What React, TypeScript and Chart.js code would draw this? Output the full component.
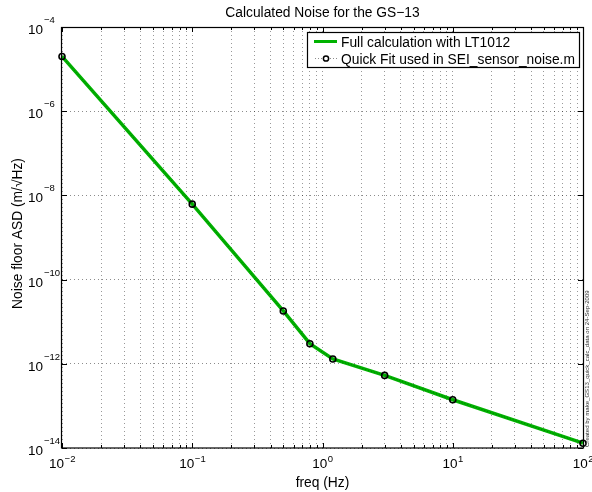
import React, { useEffect, useRef } from 'react';
import { Chart, registerables } from 'chart.js';

Chart.register(...registerables);

// ---------- data ----------
const TITLE = 'Calculated Noise for the GS\u221213';
const X_LABEL = 'freq (Hz)';
const Y_LABEL = 'Noise floor ASD (m/\u221AHz)';
const STAMP = 'Created by make_GS13_quick_calc_data on 24-Sep-2009';
const SERIES_NAMES = ['Full calculation with LT1012', 'Quick Fit used in SEI_sensor_noise.m'];

const FREQ = [0.01, 0.1, 0.5, 0.8, 1.2, 3, 10, 100];
const FULL_NOISE = [2.0e-5, 6.2e-9, 1.8e-11, 3.0e-12, 1.3e-12, 5.3e-13, 1.4e-13, 1.3e-14];
const FIT_NOISE = [2.0e-5, 6.2e-9, 1.8e-11, 3.0e-12, 1.3e-12, 5.3e-13, 1.4e-13, 1.3e-14];

const X_DECADES = [-2, -1, 0, 1, 2];
const X_MINOR_MULT = [2, 3, 4, 5, 6, 7, 8, 9];
const Y_DECADES = [-14, -12, -10, -8, -6, -4];

const FONT = '"Liberation Sans", Arial, Helvetica, sans-serif';
const GREEN = 'rgb(0,178,0)';

function xTickValues() {
  const vals: { value: number; major: boolean }[] = [];
  for (let i = 0; i < X_DECADES.length; i++) {
    const e = X_DECADES[i];
    vals.push({ value: Math.pow(10, e), major: true });
    if (i < X_DECADES.length - 1) {
      for (const m of X_MINOR_MULT) vals.push({ value: m * Math.pow(10, e), major: false });
    }
  }
  return vals;
}

const matlabPlugin = {
  id: 'matlabDecor',
  afterDraw(chart: any) {
    const { ctx, chartArea: a } = chart;
    const xs = chart.scales.x;
    const ys = chart.scales.y;
    ctx.save();

    // box
    ctx.strokeStyle = '#000';
    ctx.lineWidth = 1.2;
    ctx.setLineDash([]);
    ctx.strokeRect(Math.round(a.left) - 0.5, Math.round(a.top) + 0.5, Math.round(a.right - a.left) + 1, Math.round(a.bottom - a.top) - 0.5);

    // inside ticks
    ctx.lineWidth = 1;
    ctx.beginPath();
    for (const t of xs.ticks) {
      const px = Math.round(xs.getPixelForValue(t.value)) + 0.5;
      const len = t.major ? 5 : 3;
      ctx.moveTo(px, a.bottom);
      ctx.lineTo(px, a.bottom - len);
      ctx.moveTo(px, a.top);
      ctx.lineTo(px, a.top + len);
    }
    for (const t of ys.ticks) {
      const py = Math.round(ys.getPixelForValue(t.value)) + 0.5;
      ctx.moveTo(a.left, py);
      ctx.lineTo(a.left + 5, py);
      ctx.moveTo(a.right, py);
      ctx.lineTo(a.right - 5, py);
    }
    ctx.stroke();

    // tick labels
    const base = `13.5px ${FONT}`;
    const sup = `9.5px ${FONT}`;
    ctx.fillStyle = '#000';
    ctx.textBaseline = 'alphabetic';
    ctx.textAlign = 'left';
    for (const e of X_DECADES) {
      const px = xs.getPixelForValue(Math.pow(10, e));
      const expStr = e < 0 ? '\u2212' + Math.abs(e) : String(e);
      ctx.font = base;
      const w1 = ctx.measureText('10').width;
      ctx.font = sup;
      const w2 = ctx.measureText(expStr).width;
      const x0 = px - (w1 + w2) / 2;
      ctx.font = base;
      ctx.fillText('10', x0, a.bottom + 20);
      ctx.font = sup;
      ctx.fillText(expStr, x0 + w1 + 0.5, a.bottom + 13.5);
    }
    for (const e of Y_DECADES) {
      const py = ys.getPixelForValue(Math.pow(10, e));
      const expStr = e < 0 ? '\u2212' + Math.abs(e) : String(e);
      ctx.font = base;
      const w1 = ctx.measureText('10').width;
      const x0 = 28;
      ctx.fillText('10', x0, py + 7);
      ctx.font = sup;
      ctx.fillText(expStr, x0 + w1 + 1, py - 4);
    }

    // title
    const cx = (a.left + a.right) / 2;
    ctx.font = `13.8px ${FONT}`;
    ctx.textAlign = 'center';
    ctx.fillText(TITLE, cx, 17);
    // x label
    ctx.fillText(X_LABEL, cx, a.bottom + 39);
    // y label
    ctx.save();
    ctx.translate(22, (a.top + a.bottom) / 2 - 4);
    ctx.rotate(-Math.PI / 2);
    ctx.fillText(Y_LABEL, 0, 0);
    ctx.restore();

    // stamp
    ctx.save();
    ctx.font = `10px ${FONT}`;
    const sw = ctx.measureText(STAMP).width;
    const fs = (10 * 157) / sw;
    ctx.font = `${fs}px ${FONT}`;
    ctx.fillStyle = '#333';
    ctx.translate(a.right + 6, a.bottom - 1);
    ctx.rotate(-Math.PI / 2);
    ctx.textAlign = 'left';
    ctx.fillText(STAMP, 0, 0);
    ctx.restore();

    // legend
    const lx = 307, ly = 32, lw = 272, lh = 35;
    ctx.fillStyle = '#fff';
    ctx.fillRect(lx, ly, lw, lh);
    ctx.strokeStyle = '#000';
    ctx.lineWidth = 1.2;
    ctx.strokeRect(lx + 0.5, ly + 0.5, lw, lh);
    // entry 1
    ctx.strokeStyle = GREEN;
    ctx.lineWidth = 3;
    ctx.beginPath();
    ctx.moveTo(314, 41.5);
    ctx.lineTo(337, 41.5);
    ctx.stroke();
    // entry 2
    ctx.strokeStyle = 'rgba(0,0,0,0.45)';
    ctx.lineWidth = 1;
    ctx.setLineDash([1, 2]);
    ctx.beginPath();
    ctx.moveTo(315, 58.5);
    ctx.lineTo(337, 58.5);
    ctx.stroke();
    ctx.setLineDash([]);
    ctx.strokeStyle = '#000';
    ctx.lineWidth = 1.5;
    ctx.fillStyle = '#fff';
    ctx.beginPath();
    ctx.arc(326, 58.5, 2.6, 0, Math.PI * 2);
    ctx.fill();
    ctx.stroke();
    ctx.fillStyle = '#000';
    ctx.font = `13.8px ${FONT}`;
    ctx.textAlign = 'left';
    ctx.fillText(SERIES_NAMES[0], 341, 46.5);
    ctx.fillText(SERIES_NAMES[1], 341, 63.5);

    ctx.restore();
  },
};

export default function App() {
  const ref = useRef<HTMLCanvasElement | null>(null);

  useEffect(() => {
    document.body.style.margin = '0';
    const canvas = ref.current;
    if (!canvas) return;
    const chart = new Chart(canvas, {
      type: 'line',
      data: {
        datasets: [
          {
            label: SERIES_NAMES[0],
            data: FREQ.map((f, i) => ({ x: f, y: FULL_NOISE[i] })),
            borderColor: GREEN,
            borderWidth: 3.5,
            pointRadius: 0,
            fill: false,
            tension: 0,
            order: 2,
            clip: false as any,
          },
          {
            label: SERIES_NAMES[1],
            data: FREQ.map((f, i) => ({ x: f, y: FIT_NOISE[i] })),
            borderColor: 'rgba(0,0,0,0.35)',
            borderWidth: 1,
            borderDash: [1, 2],
            pointRadius: 3,
            pointBorderWidth: 1.6,
            pointBorderColor: '#000',
            pointBackgroundColor: 'rgba(0,0,0,0)',
            fill: false,
            tension: 0,
            order: 1,
            clip: false as any,
          },
        ],
      },
      options: {
        responsive: false,
        animation: false,
        devicePixelRatio: 1,
        layout: { padding: { left: 62, top: 27, right: 9, bottom: 44 } },
        plugins: {
          legend: { display: false },
          title: { display: false },
          tooltip: { enabled: false },
        },
        events: [],
        scales: {
          x: {
            type: 'logarithmic',
            min: 0.01,
            max: 100,
            afterBuildTicks: (scale: any) => {
              scale.ticks = xTickValues();
            },
            ticks: { display: false },
            grid: {
              display: true,
              drawTicks: false,
              color: 'rgba(0,0,0,0.4)',
              lineWidth: 1,
            },
            border: { display: false, dash: [1, 3] },
          },
          y: {
            type: 'logarithmic',
            min: 1e-14,
            max: 1e-4,
            afterBuildTicks: (scale: any) => {
              scale.ticks = Y_DECADES.map((e) => ({ value: Math.pow(10, e), major: true }));
            },
            ticks: { display: false },
            grid: {
              display: true,
              drawTicks: false,
              color: 'rgba(0,0,0,0.45)',
              lineWidth: 1,
            },
            border: { display: false, dash: [1, 3] },
          },
        },
      } as any,
      plugins: [matlabPlugin],
    });
    return () => chart.destroy();
  }, []);

  return (
    <div style={{ width: 592, height: 492, background: '#fff' }}>
      <canvas ref={ref} width={592} height={492} style={{ display: 'block' }} />
    </div>
  );
}
